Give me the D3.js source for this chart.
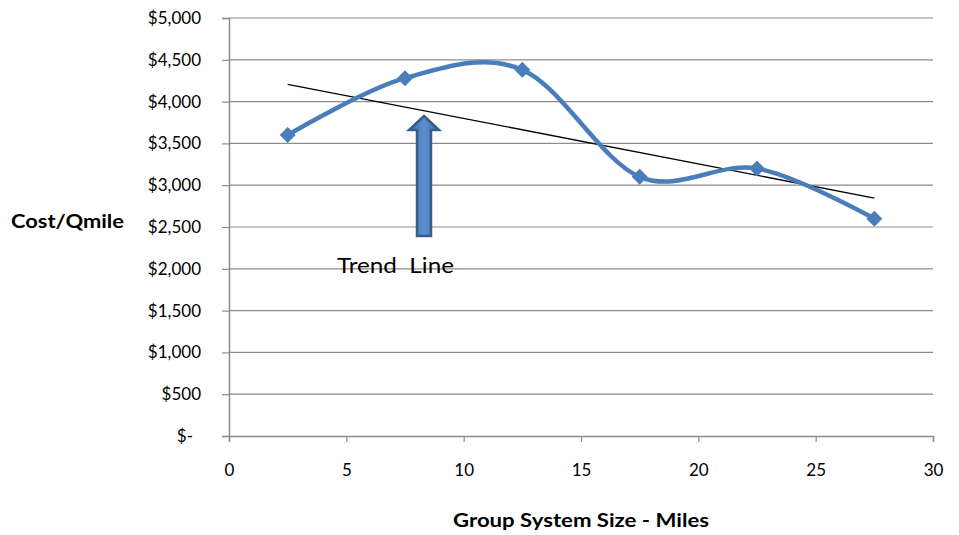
<!DOCTYPE html>
<html>
<head>
<meta charset="utf-8">
<script src="https://cdn.jsdelivr.net/npm/d3@7"></script>
<style>
  html, body { margin: 0; padding: 0; background: #fff; }
  svg { display: block; font-family: Lato, "Open Sans", sans-serif; }
</style>
</head>
<body>
<svg id="chart" width="959" height="535"></svg>
<script>
// Cost per qmile by group system size
const sizes = [2.5, 7.5, 12.5, 17.5, 22.5, 27.5];
const costs = [3600, 4280, 4380, 3100, 3200, 2600];
const xTicks = [0, 5, 10, 15, 20, 25, 30];
const yTicks = [0, 500, 1000, 1500, 2000, 2500, 3000, 3500, 4000, 4500, 5000];

const svg = d3.select("#chart");
const margin = { left: 229, right: 26, top: 18, bottom: 99 };
const W = 959, H = 535;

const x = d3.scaleLinear().domain([0, 30]).range([margin.left, W - margin.right]);
const y = d3.scaleLinear().domain([0, 5000]).range([H - margin.bottom, margin.top]);

const gridColor = "#8c8c8c";

// horizontal gridlines
svg.append("g")
  .selectAll("line")
  .data(yTicks.filter(d => d > 0))
  .join("line")
  .attr("x1", x(0)).attr("x2", x(30))
  .attr("y1", d => y(d)).attr("y2", d => y(d))
  .attr("stroke", gridColor).attr("stroke-width", 1.2);

// y axis
const fmt = d => d === 0 ? "$-" : "$" + d3.format(",")(d);
const yAxis = svg.append("g")
  .attr("transform", `translate(${x(0)},0)`)
  .call(d3.axisLeft(y).tickValues(yTicks).tickFormat(fmt).tickSize(7).tickPadding(21));
yAxis.select(".domain").attr("stroke", gridColor).attr("stroke-width", 1.5);
yAxis.selectAll(".tick line").attr("stroke", gridColor).attr("stroke-width", 1.2);
yAxis.selectAll(".tick text")
  .attr("font-size", 17).attr("fill", "#000")
  .style("font-family", "Lato, 'Open Sans', sans-serif");
yAxis.selectAll(".tick")
  .filter(d => d === 0)
  .select("text").attr("dx", -8);

// x axis
const xAxis = svg.append("g")
  .attr("transform", `translate(0,${y(0)})`)
  .call(d3.axisBottom(x).tickValues(xTicks).tickSize(6).tickPadding(22));
xAxis.select(".domain").attr("stroke", gridColor).attr("stroke-width", 1.5);
xAxis.selectAll(".tick line").attr("stroke", gridColor).attr("stroke-width", 1.2);
xAxis.selectAll(".tick text")
  .attr("font-size", 17).attr("fill", "#000")
  .style("font-family", "Lato, 'Open Sans', sans-serif");

// axis titles
svg.append("text")
  .attr("x", 11).attr("y", 228)
  .attr("font-size", 18).attr("font-weight", "bold")
  .attr("textLength", 113).attr("lengthAdjust", "spacingAndGlyphs")
  .text("Cost/Qmile");
svg.append("text")
  .attr("x", 581).attr("y", 527)
  .attr("text-anchor", "middle")
  .attr("font-size", 18).attr("font-weight", "bold")
  .attr("textLength", 256).attr("lengthAdjust", "spacingAndGlyphs")
  .text("Group System Size - Miles");

// least-squares trend line
const mx = d3.mean(sizes), my = d3.mean(costs);
const slope = d3.sum(sizes, (s, i) => (s - mx) * (costs[i] - my)) / d3.sum(sizes, s => (s - mx) ** 2);
const trend = s => my + slope * (s - mx);
const xMin = d3.min(sizes), xMax = d3.max(sizes);
svg.append("line")
  .attr("x1", x(xMin)).attr("y1", y(trend(xMin)))
  .attr("x2", x(xMax)).attr("y2", y(trend(xMax)))
  .attr("stroke", "#000").attr("stroke-width", 1.3);

// smoothed series line
const pts = sizes.map((s, i) => [s, costs[i]]);
svg.append("path")
  .datum(pts)
  .attr("d", d3.line().x(d => x(d[0])).y(d => y(d[1])).curve(d3.curveCardinal.tension(0)))
  .attr("fill", "none")
  .attr("stroke", "#4a7ebb")
  .attr("stroke-width", 4.5)
  .attr("stroke-linejoin", "round");

// diamond markers
svg.append("g")
  .selectAll("path")
  .data(pts)
  .join("path")
  .attr("transform", d => `translate(${x(d[0])},${y(d[1])})`)
  .attr("d", "M0,-8L8,0L0,8L-8,0Z")
  .attr("fill", "#4a7ebb");

// annotation arrow pointing at the trend line
const defs = svg.append("defs");
const grad = defs.append("linearGradient").attr("id", "arrowFill")
  .attr("x1", "0").attr("x2", "1").attr("y1", "0").attr("y2", "0");
grad.append("stop").attr("offset", "0").attr("stop-color", "#3f6ea7");
grad.append("stop").attr("offset", "0.5").attr("stop-color", "#5c8fcf");
grad.append("stop").attr("offset", "1").attr("stop-color", "#3f6ea7");

const ax = 424, tipY = 116, headY = 130, baseY = 236, shaftHalf = 7, headHalf = 15;
svg.append("path")
  .attr("d", `M${ax},${tipY}L${ax + headHalf},${headY}L${ax + shaftHalf},${headY}L${ax + shaftHalf},${baseY}` +
             `L${ax - shaftHalf},${baseY}L${ax - shaftHalf},${headY}L${ax - headHalf},${headY}Z`)
  .attr("fill", "url(#arrowFill)")
  .attr("stroke", "#385d8a")
  .attr("stroke-width", 2.5)
  .attr("stroke-linejoin", "miter");

svg.append("text")
  .attr("x", 337).attr("y", 273)
  .attr("font-size", 21)
  .attr("textLength", 117).attr("lengthAdjust", "spacingAndGlyphs")
  .text("Trend\u00a0 Line");
</script>
</body>
</html>
